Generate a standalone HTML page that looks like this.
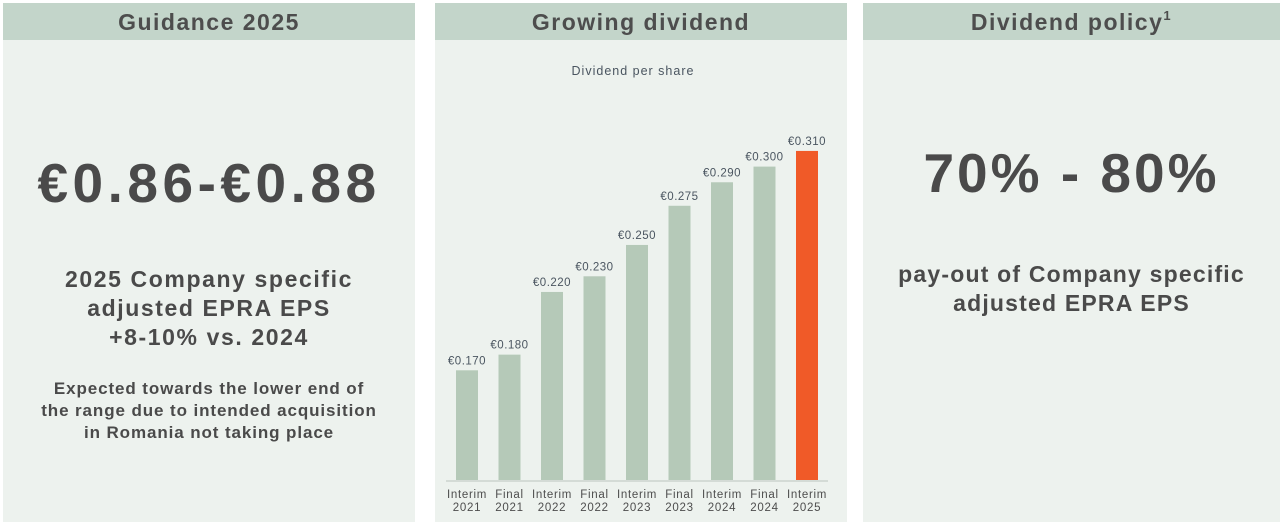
<!DOCTYPE html>
<html><head><meta charset="utf-8"><style>
body{margin:0;width:1280px;height:527px;background:#fff;font-family:"Liberation Sans",sans-serif;color:#4a4a4a;position:relative;overflow:hidden}
.panel{position:absolute;top:3px;height:519px;background:#edf2ee}
.hdr{height:37px;background:#c3d5ca;text-align:center;font-size:23px;font-weight:bold;line-height:38px;color:#4d4d4d;letter-spacing:1.5px}
.t{position:absolute;left:0;right:0;text-align:center;font-weight:bold}
</style></head><body>
<div class="panel" style="left:3px;width:412px">
 <div class="hdr">Guidance 2025</div>
 <div class="t" style="top:148px;font-size:55px;letter-spacing:4.5px">€0.86-€0.88</div>
 <div class="t" style="top:262px;font-size:23px;line-height:29px;letter-spacing:1.6px">2025 Company specific<br>adjusted EPRA EPS<br>+8-10% vs. 2024</div>
 <div class="t" style="top:375px;font-size:17px;line-height:22px;letter-spacing:0.9px">Expected towards the lower end of<br>the range due to intended acquisition<br>in Romania not taking place</div>
</div>
<div class="panel" style="left:435px;width:412px">
 <div class="hdr">Growing dividend</div>
 <svg id="chart" width="412" height="482" style="position:absolute;left:0;top:37px"></svg>
</div>
<div class="panel" style="left:863px;width:417px">
 <div class="hdr">Dividend policy<sup style="font-size:13px;vertical-align:top;line-height:26px">1</sup></div>
 <div class="t" style="top:138px;font-size:55px;letter-spacing:3px">70% - 80%</div>
 <div class="t" style="top:257px;font-size:23px;line-height:29px;letter-spacing:1.2px">pay-out of Company specific<br>adjusted EPRA EPS</div>
</div>
<script>
const categories=["Interim|2021","Final|2021","Interim|2022","Final|2022","Interim|2023","Final|2023","Interim|2024","Final|2024","Interim|2025"];
const values=[0.170,0.180,0.220,0.230,0.250,0.275,0.290,0.300,0.310];
const valueLabels=["€0.170","€0.180","€0.220","€0.230","€0.250","€0.275","€0.290","€0.300","€0.310"];
const svg=document.getElementById('chart');const NS='http://www.w3.org/2000/svg';
const oy=40,base=480-oy,v0=0.1,k=1567;
const y=v=>base-(v-v0)*k;
const x=i=>21+i*42.5;
function mk(t,a){const e=document.createElementNS(NS,t);for(const n in a)e.setAttribute(n,a[n]);svg.appendChild(e);return e;}
let s=mk('text',{x:198,y:71-oy+4,'text-anchor':'middle','font-size':12.5,'letter-spacing':1,fill:'#4a5560'});s.textContent='Dividend per share';


let ax=mk('line',{x1:11,x2:393,y1:base+1,y2:base+1,stroke:'#ccd3ce','stroke-width':1.5});


values.forEach((v,i)=>{
 const r=mk('rect',{x:x(i),y:y(v),width:22,height:base-y(v),fill:i==values.length-1?'#f05a28':'#b5c9b8'});
 
 
 const l=mk('text',{x:x(i)+11,y:y(v)-6,'text-anchor':'middle','font-size':11.5,'letter-spacing':0.5,fill:'#4a5560'});l.textContent=valueLabels[i];
 
 
 const p=categories[i].split('|');
 [p[0],p[1]].forEach((tx,j)=>{const c=mk('text',{x:x(i)+11,y:base+18+j*13,'text-anchor':'middle','font-size':11.5,'letter-spacing':0.7,fill:'#4d4d4d'});c.textContent=tx;
 
 });
});
</script>
</body></html>
